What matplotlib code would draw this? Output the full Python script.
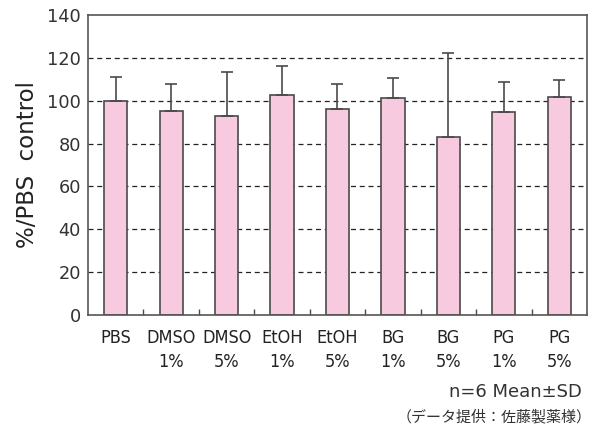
import numpy as np
import matplotlib
matplotlib.use("Agg")
import matplotlib.pyplot as plt

plt.rcParams['font.family'] = ['DejaVu Sans', 'Noto Sans CJK JP']

# Data.
categories = ["PBS", "DMSO\n1%", "DMSO\n5%", "EtOH\n1%", "EtOH\n5%",
              "BG\n1%", "BG\n5%", "PG\n1%", "PG\n5%"]
means = [100.0, 95.3, 93.0, 102.7, 96.3, 101.4, 83.1, 94.7, 101.7]
error_tops = [111.2, 107.8, 113.5, 116.2, 107.9, 110.7, 122.1, 108.7, 109.5]
y_ticks = [0, 20, 40, 60, 80, 100, 120, 140]

sd = np.array(error_tops) - np.array(means)
x = np.arange(len(categories))

edge = "#4a4a4a"

fig = plt.figure(figsize=(5.92, 4.34), dpi=100)
ax = fig.add_axes([0.1486, 0.2742, 0.843, 0.6912])

# Grid lines behind bars.
for y in y_ticks[1:-1]:
    ax.axhline(y, color="#222222", linestyle=(0, (4, 3)), linewidth=0.9,
               zorder=0)

ax.bar(x, means, width=0.42, color="#f8cadf", edgecolor=edge,
       linewidth=1.2, zorder=2)
ax.errorbar(x, means, yerr=[np.zeros_like(sd), sd], fmt="none",
            ecolor=edge, elinewidth=1.2, capsize=4.5, capthick=1.2,
            zorder=3)

ax.set_xlim(-0.5, len(categories) - 0.5)
ax.set_ylim(0, 140)
ax.set_yticks(y_ticks)
ax.set_yticklabels([str(v) for v in y_ticks], fontsize=12.8,
                   color="#333333")
ax.set_xticks(x)
ax.set_xticklabels(categories, fontsize=13, color="#222222",
                   linespacing=1.45, fontstretch="condensed")
ax.tick_params(axis="both", length=0)
ax.tick_params(axis="y", pad=5)
ax.tick_params(axis="x", pad=10)

# Small inward separators between categories.
ax.set_xticks(x[:-1] + 0.5, minor=True)
ax.tick_params(axis="x", which="minor", direction="in", length=4,
               width=1.0, color=edge)

for s in ax.spines.values():
    s.set_color("#555555")
    s.set_linewidth(1.2)

ax.set_ylabel("%/PBS  control", fontsize=16.5, color="#222222",
              labelpad=6)

fig.text(0.983, 0.097, "n=6 Mean±SD", ha="right", va="center",
         fontsize=13, color="#333333")
fig.text(1.0, 0.039, "（データ提供：佐藤製薬様）", ha="right", va="center",
         fontsize=10.8, color="#333333", family="Noto Sans CJK JP")

fig.savefig("out.png", dpi=100)
